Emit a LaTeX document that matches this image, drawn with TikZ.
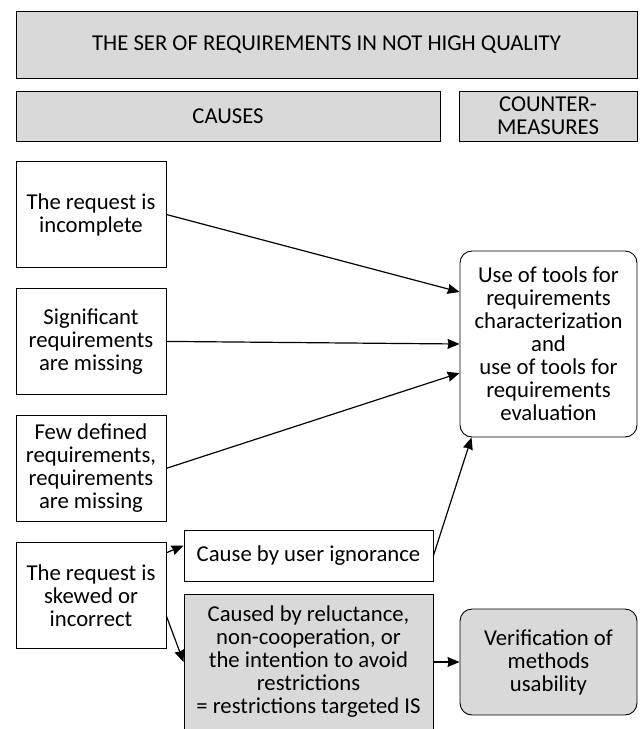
\documentclass[tikz,border=0pt]{standalone}
\usepackage{fontspec}
\setmainfont{Carlito}
\usepackage{xcolor}
\usepackage{tikz}
\usetikzlibrary{positioning,arrows.meta,calc}

\definecolor{boxgray}{HTML}{D9D9D9}

\begin{document}
\begin{tikzpicture}[x=1pt,y=-1pt,node distance=20pt,->,>={Stealth[length=12pt,width=10pt,inset=1pt]},line width=1.2pt]

  \tikzstyle{head}=[rectangle,draw,line width=0.9pt,fill=boxgray,align=center,inner sep=2pt]
  \tikzstyle{cause}=[rectangle,draw,line width=0.9pt,fill=white,align=center,inner sep=2pt,minimum width=150pt,minimum height=106pt]
  \tikzstyle{measure}=[rectangle,rounded corners=12pt,draw,line width=0.9pt,align=center,inner sep=2pt,minimum width=177pt]

  \clip (0,0) rectangle (641,729);
  \fontsize{22.7}{23}\selectfont

  % header row
  \node[head,minimum width=621pt,minimum height=67pt] (title) at (326.5,44.5) {THE SER OF REQUIREMENTS IN NOT HIGH QUALITY};
  \node[head,minimum width=424pt,minimum height=50pt] (causes) at (228,116) {CAUSES};
  \node[head,minimum width=178pt,minimum height=50pt] (counter) at (548,116) {COUNTER-\\MEASURES};

  % causes
  \node[cause] (incomplete) at (91,214.5) {The request is\\incomplete};
  \node[cause] (missing) [below=of incomplete] {Significant\\requirements\\are missing};
  \node[cause] (few) [below=of missing] {Few defined\\requirements,\\requirements\\are missing};
  \node[cause] (skewed) [below=of few] {The request is\\skewed or\\incorrect};

  \node[cause,minimum width=249pt,minimum height=51pt] (ignorance) at (308.5,555.5) {Cause by user ignorance};
  \node[cause,fill=boxgray,minimum width=249pt,minimum height=150pt] (reluctance) at (308.5,669) {};
  \node[align=center] at (308.5,662) {Caused by reluctance,\\non-cooperation, or\\the intention to avoid\\restrictions\\= restrictions targeted IS};

  % counter-measures
  \node[measure,minimum height=186pt] (tools) at (548.5,344) {Use of tools for\\requirements\\characterization\\and\\use of tools for\\requirements\\evaluation};
  \node[measure,fill=boxgray,minimum height=106pt] (verif) at (548.5,662) {Verification of\\methods\\usability};

  % arrows
  \draw (incomplete.east) -- ($(tools.west)+(0,-52)$);
  \draw (missing.east) -- (tools.west);
  \draw (few.east) -- ($(tools.west)+(0,29)$);
  \draw (ignorance.east) -- ($(tools.south west)+(12,0)$);
  \draw ($(skewed.north east)+(0,11)$) -- ($(ignorance.west)+(0,-10)$);
  \draw ($(skewed.east)+(0,21)$) -- (reluctance.west |- verif.west);
  \draw (reluctance.east |- verif.west) -- (verif.west);

\end{tikzpicture}
\end{document}
